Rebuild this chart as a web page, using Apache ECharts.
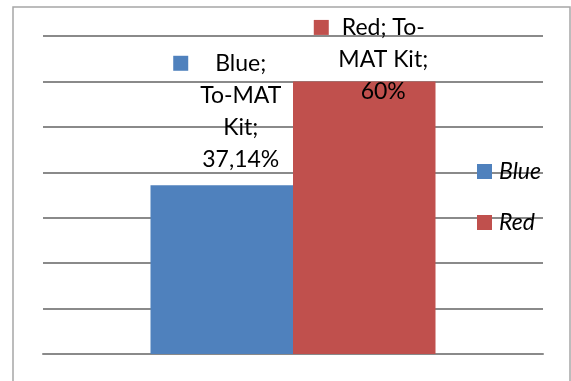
<!DOCTYPE html>
<html>
<head>
<meta charset="utf-8">
<script src="https://cdn.jsdelivr.net/npm/echarts@6/dist/echarts.min.js"></script>
<style>
html,body{margin:0;padding:0;background:#fff;}
#chart{width:571px;height:381px;}
</style>
</head>
<body>
<div id="chart"></div>
<script>
// ---- data ----
var categories = ['To-MAT Kit'];
var seriesNames = ['Blue', 'Red'];
var blueValues = [37.14];
var redValues = [60];
var yTicks = [0, 10, 20, 30, 40, 50, 60, 70];
// label line breaks as wrapped in the reference
var blueLabelLines = ['Blue;', 'To-MAT', 'Kit;'];
var redLabelLines = ['Red; To-', 'MAT Kit;'];

var colors = ['#4f81bd', '#c0504d'];
var FONT = 'Lato';
var FS = 23;

function fmtPct(v) {
  return String(v).replace('.', ',') + '%';
}

function makeLabel(lines) {
  return function (p) {
    var out = '{sq| }{g| }{t|' + lines[0] + '}{g2| }';
    for (var i = 1; i < lines.length; i++) out += '\n{t|' + lines[i] + '}';
    out += '\n{t|' + fmtPct(p.value) + '}';
    return out;
  };
}

function rich(color, gapW, spacerW) {
  return {
    sq: { width: 15, height: 15, backgroundColor: color, verticalAlign: 'middle' },
    g: { width: gapW },
    g2: { width: spacerW },
    t: { fontFamily: FONT, fontSize: FS, color: '#000', lineHeight: 32 }
  };
}

var chart = echarts.init(document.getElementById('chart'));
chart.setOption({
  animation: false,
  backgroundColor: '#fff',
  graphic: [{
    type: 'rect', silent: true, z: -1,
    shape: { x: 13, y: 7, width: 557, height: 420 },
    style: { fill: 'none', stroke: '#a6a6a6', lineWidth: 1.5 }
  }],
  grid: { left: 43, right: 28, top: 36, bottom: 27, containLabel: false },
  legend: {
    orient: 'vertical',
    left: 472, top: 155,
    itemWidth: 15, itemHeight: 15, itemGap: 28,
    icon: 'rect',
    data: seriesNames,
    textStyle: { fontFamily: FONT, fontSize: FS, fontStyle: 'italic', color: '#000', lineHeight: 20, padding: [0, 0, 0, 2] }
  },
  xAxis: {
    type: 'category', data: categories,
    axisLine: { lineStyle: { color: '#8a8a8a', width: 2 } },
    axisTick: { show: false }, axisLabel: { show: false }
  },
  yAxis: {
    type: 'value', min: yTicks[0], max: yTicks[yTicks.length - 1], interval: 10,
    axisLine: { show: false }, axisTick: { show: false }, axisLabel: { show: false },
    splitLine: { lineStyle: { color: '#8a8a8a', width: 2 } }
  },
  series: [{
    name: seriesNames[0], type: 'bar', data: blueValues,
    barGap: '0%', barCategoryGap: '43%',
    itemStyle: { color: colors[0] },
    label: {
      show: true, position: 'top', distance: 10, offset: [19, 0],
      align: 'center',
      formatter: makeLabel(blueLabelLines),
      rich: rich(colors[0], 27, 42)
    }
  }, {
    name: seriesNames[1], type: 'bar', data: redValues,
    barGap: '0%', barCategoryGap: '43%',
    itemStyle: { color: colors[1] },
    label: {
      show: true, position: 'top', distance: 0, offset: [19, 26],
      align: 'center',
      formatter: makeLabel(redLabelLines),
      rich: rich(colors[1], 13, 28)
    }
  }]
});
</script>
</body>
</html>
